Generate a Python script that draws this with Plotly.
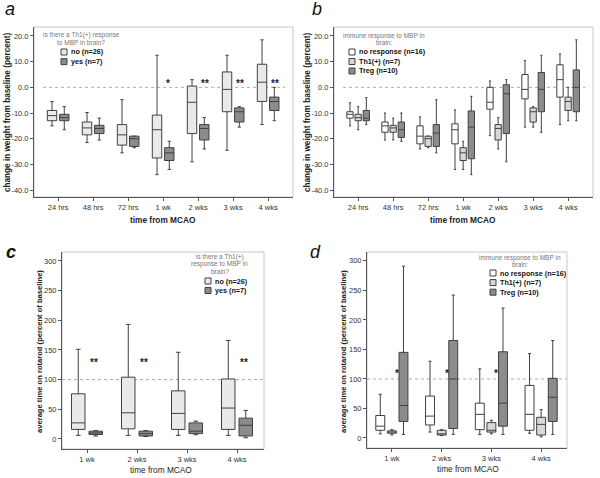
import plotly.graph_objects as go

W, H = 600, 478


def px(x):
    return x / W


def py(y):
    return 1 - y / H


# ---------------- data ----------------
CATS_AB = ["24 hrs", "48 hrs", "72 hrs", "1 wk", "2 wks", "3 wks", "4 wks"]
CATS_CD = ["1 wk", "2 wks", "3 wks", "4 wks"]

# panel a : no (n=26)
A_NO_LO = [-15, -21.5, -25.5, -34, -29, -24.5, -14.5]
A_NO_Q1 = [-13, -18.5, -22.5, -27.5, -18, -9.5, -5.5]
A_NO_MED = [-11, -15.8, -18.5, -16.5, -5.8, -0.8, 2]
A_NO_Q3 = [-9, -13.5, -14.5, -10.8, 0.5, 6, 9]
A_NO_HI = [-5.5, -9.8, -4.8, 12.5, 3, 12.5, 18.5]
# panel a : yes (n=7)
A_YES_LO = [-16.5, -20.5, -23.5, -32, -24, -15.5, -13]
A_YES_Q1 = [-13, -18, -23, -28.5, -20.5, -13.5, -9]
A_YES_MED = [-11.8, -16, -20, -25.5, -16, -9.5, -5.5]
A_YES_Q3 = [-10.5, -14.8, -19, -23.5, -14.5, -8, -3.8]
A_YES_HI = [-7.5, -12, -19, -21, -11.8, -7.5, 0]

# panel b : no response (n=16)
B_NR_LO = [-15, -20.5, -24, -32, -18.8, -15.5, -14.5]
B_NR_Q1 = [-12, -17.5, -22, -22, -8.5, -4.5, -3.8]
B_NR_MED = [-10.5, -15, -19, -16.5, -5.8, -0.8, 3]
B_NR_Q3 = [-9.5, -13.5, -15, -14.2, 0, 5, 8.8]
B_NR_HI = [-6, -10, -11.5, -8.8, 2.5, 10.5, 13]
# panel b : Th1(+) (n=7)
B_TH_LO = [-16.5, -20.5, -23.5, -32, -24, -15.5, -13]
B_TH_Q1 = [-13, -17.5, -23, -28.5, -20.5, -13.5, -9]
B_TH_MED = [-11.8, -15.8, -20, -25.5, -16, -9.5, -5.5]
B_TH_Q3 = [-10.5, -14.8, -19, -23.5, -14.5, -8, -3.8]
B_TH_HI = [-7.5, -12, -19, -21, -11.8, -7.5, 0]
# panel b : Treg (n=10)
B_TR_LO = [-14.5, -21, -25.5, -34, -29, -17.5, -13]
B_TR_Q1 = [-13, -19.5, -23, -27.8, -18, -9.5, -9.5]
B_TR_MED = [-12, -16.5, -17.8, -15.5, -2.5, -0.8, 0]
B_TR_Q3 = [-9, -13.5, -14.5, -9.2, 1, 5.8, 6.8]
B_TR_HI = [-4, -10, -4.8, -3.5, 3, 12.5, 18.5]

# panel c : no (n=26)
C_NO_LO = [6, 6, 6, 6]
C_NO_Q1 = [16, 17, 16, 16]
C_NO_MED = [27, 44, 43, 52]
C_NO_Q3 = [76, 104, 81, 101]
C_NO_HI = [151, 193, 146, 166]
# panel c : yes (n=7)
C_YES_LO = [5, 4, 7, 2]
C_YES_Q1 = [7.5, 5, 9, 5]
C_YES_MED = [10, 9, 13, 23]
C_YES_Q3 = [13, 13, 27, 35]
C_YES_HI = [14, 14, 30, 48]

# panel d : no response (n=16)
D_NR_LO = [7, 10, 6, 8]
D_NR_Q1 = [13, 22, 14, 13]
D_NR_MED = [20, 37, 40, 40]
D_NR_Q3 = [38, 71, 59, 89]
D_NR_HI = [74, 130, 117, 143]
# panel d : Th1(+) (n=7)
D_TH_LO = [5, 4, 7, 2]
D_TH_Q1 = [8, 5, 10, 5]
D_TH_MED = [10, 7, 13, 23]
D_TH_Q3 = [12, 13, 26, 35]
D_TH_HI = [14, 14, 30, 48]
# panel d : Treg (n=10)
D_TR_LO = [6, 6, 6, 6]
D_TR_Q1 = [28, 16, 20, 28]
D_TR_MED = [55, 100, 59, 69]
D_TR_Q3 = [145, 165, 146, 101]
D_TR_HI = [291, 242, 220, 165]

# significance marks
STAR_CATS_A = ["1 wk", "2 wks", "3 wks", "4 wks"]
STAR_TEXT_A = ["*", "**", "**", "**"]
STAR_Y_A = 1.5
STAR_CATS_C = ["1 wk", "2 wks", "4 wks"]
STAR_TEXT_C = ["**", "**", "**"]
STAR_Y_C = 129
STAR_CATS_D = ["1 wk", "2 wks", "3 wks"]
STAR_TEXT_D = ["*", "*", "*"]
STAR_Y_D = 109

# ticks
Y_TICKS_AB = [-40, -30, -20, -10, 0, 10, 20]
Y_TICKS_CD = [0, 50, 100, 150, 200, 250, 300]
REF_AB = 0
REF_CD = 100

LEG_A_TITLE = ["is there a Th1(+) response", "to MBP in brain?"]
LEG_A_ITEMS = ["no (n=26)", "yes (n=7)"]
LEG_B_TITLE = ["immune response to MBP in", "brain:"]
LEG_B_ITEMS = ["no response (n=16)", "Th1(+) (n=7)", "Treg (n=10)"]
LEG_C_TITLE = ["is there a Th1(+)", "response to MBP in", "brain?"]
LEG_C_ITEMS = ["no (n=26)", "yes (n=7)"]
LEG_D_TITLE = ["immune response to MBP in", "brain:"]
LEG_D_ITEMS = ["no response (n=16)", "Th1(+) (n=7)", "Treg (n=10)"]

# ---------------- style ----------------
FONT = "Liberation Sans, Arial, sans-serif"
LINE = "#404040"
AXIS = "#555555"
FRAME = "#c8c8c8"
LIGHT_DOT = "#e9e9e9"
WHITE = "#ffffff"
LIGHT = "#d8d8d8"
DARK = "#8c8c8c"

fig = go.Figure()


def add_boxes(ax, cats, groups, fills, gid):
    for i, (g, fc) in enumerate(zip(groups, fills)):
        lo, q1, med, q3, hi = g
        fig.add_trace(go.Box(
            x=cats, lowerfence=lo, q1=q1, median=med, q3=q3, upperfence=hi,
            xaxis="x" + ax, yaxis="y" + ax,
            fillcolor=fc, line=dict(color=LINE, width=1),
            whiskerwidth=0.35, boxpoints=False, showlegend=False,
            offsetgroup=f"{gid}{i}", alignmentgroup=gid, hoverinfo="skip"))


add_boxes("", CATS_AB,
          [(A_NO_LO, A_NO_Q1, A_NO_MED, A_NO_Q3, A_NO_HI),
           (A_YES_LO, A_YES_Q1, A_YES_MED, A_YES_Q3, A_YES_HI)],
          [LIGHT_DOT, DARK], "a")
add_boxes("2", CATS_AB,
          [(B_NR_LO, B_NR_Q1, B_NR_MED, B_NR_Q3, B_NR_HI),
           (B_TH_LO, B_TH_Q1, B_TH_MED, B_TH_Q3, B_TH_HI),
           (B_TR_LO, B_TR_Q1, B_TR_MED, B_TR_Q3, B_TR_HI)],
          [WHITE, LIGHT, DARK], "b")
add_boxes("3", CATS_CD,
          [(C_NO_LO, C_NO_Q1, C_NO_MED, C_NO_Q3, C_NO_HI),
           (C_YES_LO, C_YES_Q1, C_YES_MED, C_YES_Q3, C_YES_HI)],
          [LIGHT_DOT, DARK], "c")
add_boxes("4", CATS_CD,
          [(D_NR_LO, D_NR_Q1, D_NR_MED, D_NR_Q3, D_NR_HI),
           (D_TH_LO, D_TH_Q1, D_TH_MED, D_TH_Q3, D_TH_HI),
           (D_TR_LO, D_TR_Q1, D_TR_MED, D_TR_Q3, D_TR_HI)],
          [WHITE, LIGHT, DARK], "d")


def xaxis(cats, dom, rng, anchor):
    return dict(type="category", categoryorder="array", categoryarray=cats,
                domain=dom, range=rng, anchor=anchor, showline=True,
                linecolor=AXIS, linewidth=1, ticks="outside", ticklen=3,
                tickcolor=AXIS, tickfont=dict(size=7.5, color="#333", family=FONT),
                showgrid=False, zeroline=False, fixedrange=True)


def yaxis(ticks, labels, dom, rng, anchor):
    return dict(domain=dom, range=rng, anchor=anchor, showline=True,
                linecolor=AXIS, linewidth=1, ticks="outside", ticklen=3,
                tickcolor=AXIS, tickvals=ticks, ticktext=labels,
                tickfont=dict(size=7.5, color="#333", family=FONT),
                showgrid=False, zeroline=False, fixedrange=True)


lab_ab = [f"{v:.1f}" for v in Y_TICKS_AB]
lab_cd = [str(v) for v in Y_TICKS_CD]

fig.update_layout(
    width=W, height=478, margin=dict(l=0, r=0, t=0, b=0),
    paper_bgcolor="white", plot_bgcolor="white",
    boxmode="group", boxgap=0.30, boxgroupgap=0.23,
    font=dict(family=FONT, color="#222"),
    xaxis=xaxis(CATS_AB, [px(34), px(293)], [-0.69, 6.71], "y"),
    yaxis=yaxis(Y_TICKS_AB, lab_ab, [py(197), py(27)], [-42.7, 23.5], "x"),
    xaxis2=xaxis(CATS_AB, [px(334), px(593)], [-0.69, 6.71], "y2"),
    yaxis2=yaxis(Y_TICKS_AB, lab_ab, [py(197), py(27)], [-42.7, 23.5], "x2"),
    xaxis3=xaxis(CATS_CD, [px(62), px(264)], [-0.5, 3.54], "y3"),
    yaxis3=yaxis(Y_TICKS_CD, lab_cd, [py(449), py(252)], [-17, 315], "x3"),
    xaxis4=xaxis(CATS_CD, [px(367), px(567)], [-0.5, 3.52], "y4"),
    yaxis4=yaxis(Y_TICKS_CD, lab_cd, [py(448), py(252)], [-17, 315], "x4"),
)

shapes = []
annotations = []

# frames and reference lines
for ax, ref, (x0, x1) in [("", REF_AB, (0.035, 0.97)), ("2", REF_AB, (0.035, 0.97)),
                           ("3", REF_CD, (0.0, 1.0)), ("4", REF_CD, (0.0, 1.0))]:
    shapes.append(dict(type="rect", xref=f"x{ax} domain", yref=f"y{ax} domain",
                       x0=0, x1=1, y0=0, y1=1, line=dict(color=FRAME, width=1),
                       layer="below"))
    shapes.append(dict(type="line", xref=f"x{ax} domain", yref=f"y{ax}",
                       x0=x0, x1=x1, y0=ref, y1=ref,
                       line=dict(color="#aaaaaa", width=1, dash="dot"), layer="below"))


def text(x, y, s, size, bold=False, color="#222", angle=0, anchor="center",
         italic=False):
    if bold:
        s = f"<b>{s}</b>"
    if italic:
        s = f"<i>{s}</i>"
    annotations.append(dict(xref="paper", yref="paper", x=px(x), y=py(y), text=s,
                            showarrow=False, textangle=angle, xanchor=anchor,
                            yanchor="middle",
                            font=dict(size=size, color=color, family=FONT)))


# panel letters
text(10, 9, "a", 18, italic=True, color="#111")
text(317, 9, "b", 18, italic=True, color="#111")
text(11, 252, "c", 18, italic=True, bold=True, color="#111")
text(315, 252, "d", 18, italic=True, color="#111")

# axis titles
text(8, 112, "change in weight from baseline (percent)", 8.2, bold=True, angle=-90)
text(308, 112, "change in weight from baseline (percent)", 8.2, bold=True, angle=-90)
text(163, 220, "time from MCAO", 8.3, bold=True)
text(463, 220, "time from MCAO", 8.3, bold=True)
text(39, 352, "average time on rotarod (percent of baseline)", 7.6, bold=True, angle=-90)
text(343, 352, "average time on rotarod (percent of baseline)", 7.6, bold=True, angle=-90)
text(161, 470, "time from MCAO", 8.3)
text(468, 469, "time from MCAO", 8.3)


def legend(title_lines, title_x, title_y0, title_dy, items, fills, sq_x, row_y0, row_dy):
    for k, line in enumerate(title_lines):
        text(title_x, title_y0 + k * title_dy, line, 6.5, color="#777")
    for k, (it, fc) in enumerate(zip(items, fills)):
        yc = row_y0 + k * row_dy
        shapes.append(dict(type="rect", xref="paper", yref="paper",
                           x0=px(sq_x), x1=px(sq_x + 6), y0=py(yc + 3), y1=py(yc - 3),
                           fillcolor=fc, line=dict(color=LINE, width=1)))
        text(sq_x + 8, yc, it, 7.2, bold=True, anchor="left", color="#111")


legend(LEG_A_TITLE, 81, 35, 7.3, LEG_A_ITEMS, [LIGHT_DOT, DARK], 61, 52, 9.7)
legend(LEG_B_TITLE, 384, 36, 6.5, LEG_B_ITEMS, [WHITE, LIGHT, DARK], 349, 52, 9.5)
legend(LEG_C_TITLE, 220, 257, 7.2, LEG_C_ITEMS, [LIGHT_DOT, DARK], 205, 281, 9.5)
legend(LEG_D_TITLE, 520, 258, 6.5, LEG_D_ITEMS, [WHITE, LIGHT, DARK], 490, 273, 9.6)

# significance stars
for ax, cats, marks, yv in [("", STAR_CATS_A, STAR_TEXT_A, STAR_Y_A),
                            ("3", STAR_CATS_C, STAR_TEXT_C, STAR_Y_C),
                            ("4", STAR_CATS_D, STAR_TEXT_D, STAR_Y_D)]:
    for c, m in zip(cats, marks):
        annotations.append(dict(xref="x" + ax, yref="y" + ax, x=c, y=yv,
                                text=f"<b>{m}</b>", showarrow=False,
                                xanchor="left", yanchor="middle", xshift=1,
                                font=dict(size=10, color="#222", family=FONT)))

fig.update_layout(shapes=shapes, annotations=annotations)
fig.write_html(
    "out.html",
    config={"displayModeBar": False, "staticPlot": True},
    post_script="document.body.style.margin='0';document.body.style.padding='0';",
)
